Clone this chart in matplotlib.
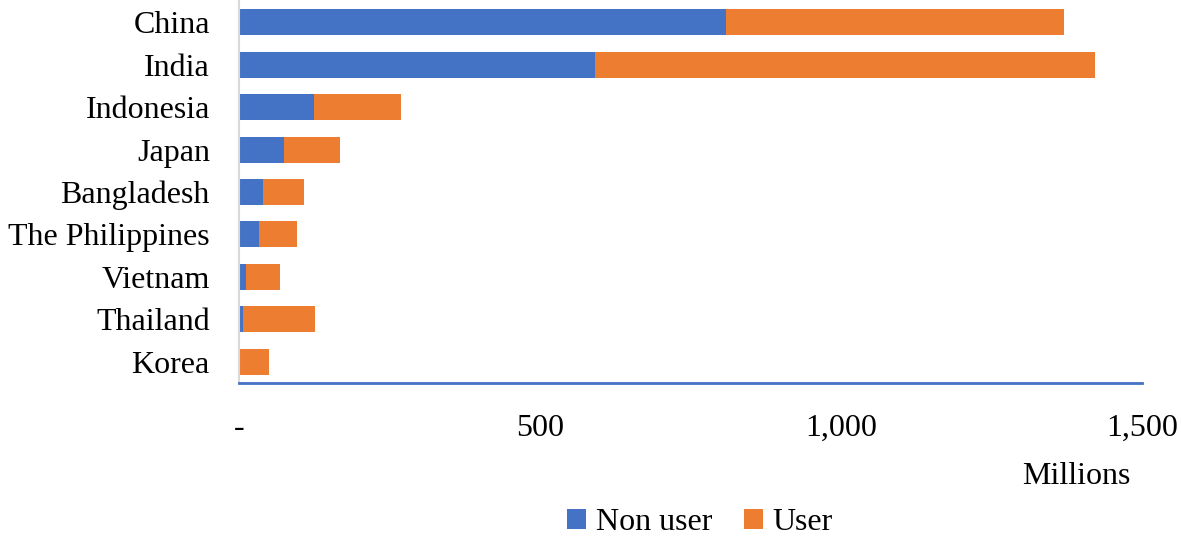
import matplotlib
matplotlib.use("Agg")
import matplotlib.pyplot as plt
from matplotlib.ticker import FuncFormatter
from matplotlib.patches import Patch

countries = ["China", "India", "Indonesia", "Japan", "Bangladesh",
             "The Philippines", "Vietnam", "Thailand", "Korea"]
non_user = [809, 591, 125, 75, 40, 33, 11, 7, 0]
user = [561, 831, 144, 93, 68, 63, 57, 119, 50]
x_ticks = [0, 500, 1000, 1500]

BLUE = "#4472C4"
ORANGE = "#ED7D31"
FONT = "Liberation Serif"
FS = 23

plt.rcParams['font.family'] = [FONT, 'DejaVu Serif']

fig = plt.figure(figsize=(11.81, 5.41), dpi=100)
ax = fig.add_axes([239/1181, 1 - 383/541, (1142-239)/1181, 382/541])

y = list(range(len(countries)))
ax.barh(y, non_user, height=0.61, color=BLUE, label="Non user")
ax.barh(y, user, left=non_user, height=0.61, color=ORANGE, label="User")

ax.set_ylim(len(countries) - 0.5, -0.5)
ax.set_xlim(0, 1500)
ax.set_yticks(y)
ax.set_yticklabels(countries, fontsize=FS)
ax.set_xticks(x_ticks)
ax.xaxis.set_major_formatter(FuncFormatter(lambda v, p: "-" if v == 0 else f"{int(v):,}"))
for lab in ax.get_xticklabels():
    lab.set_fontsize(FS)
ax.tick_params(axis='x', length=0, pad=22)
ax.tick_params(axis='y', length=0, pad=21)

for s in ["top", "right"]:
    ax.spines[s].set_visible(False)
ax.spines["left"].set_color("#D9D9D9")
ax.spines["left"].set_linewidth(1.5)
ax.spines["bottom"].set_color(BLUE)
ax.spines["bottom"].set_linewidth(2)

fig.text(1076/1181, 1 - 476/541, "Millions", fontsize=FS, ha="center", va="center")

handles = [Patch(facecolor=BLUE), Patch(facecolor=ORANGE)]
fig.legend(handles, ["Non user", "User"], loc="center", bbox_to_anchor=(700/1181, 1 - 523/541),
           ncol=2, frameon=False, fontsize=FS, handlelength=0.6, handleheight=0.6,
           handletextpad=0.3, columnspacing=1.0, borderpad=0)

fig.savefig("out.png", dpi=100)
